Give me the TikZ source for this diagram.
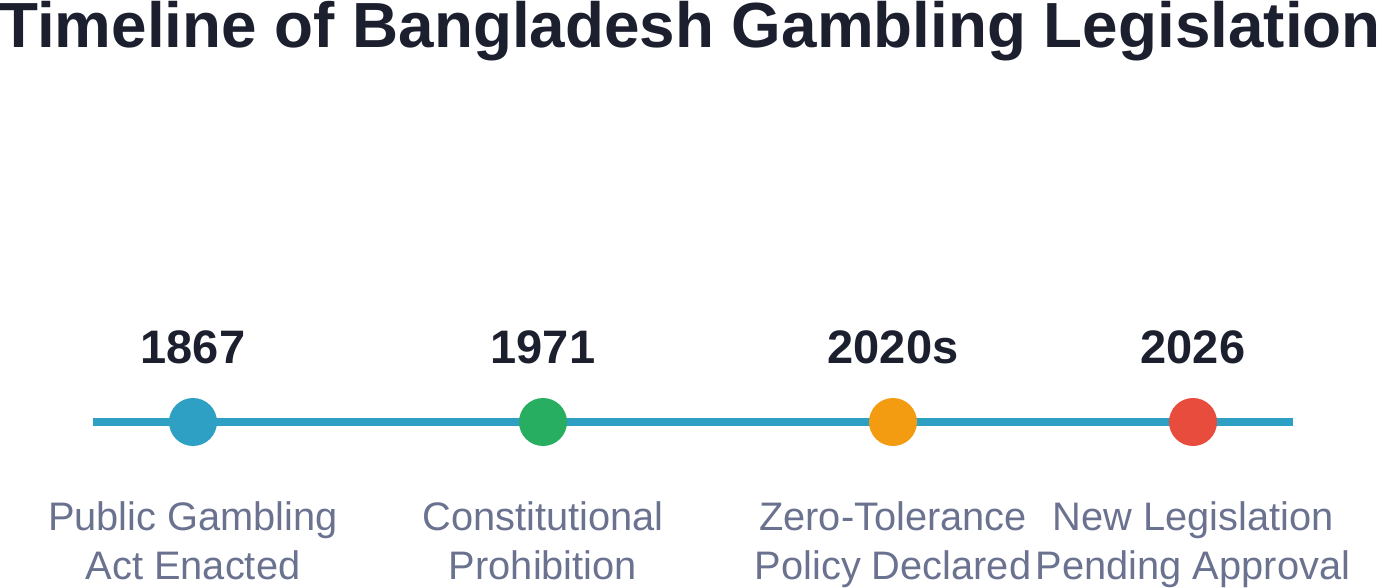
\documentclass[tikz,border=0pt]{standalone}
\usepackage{fontspec}
\setmainfont{Liberation Sans}
\definecolor{titlecol}{HTML}{1C1F2E}
\definecolor{labelcol}{HTML}{6B7290}
\definecolor{linecol}{HTML}{2EA0C4}
\definecolor{ecol1}{HTML}{2EA0C4}
\definecolor{ecol2}{HTML}{27AE60}
\definecolor{ecol3}{HTML}{F39C12}
\definecolor{ecol4}{HTML}{E74C3C}
\tikzset{
  titletext/.style={anchor=base, inner sep=0pt, text=titlecol, font=\bfseries\fontsize{63.8}{75}\selectfont},
  yeartext/.style={anchor=base, inner sep=0pt, text=titlecol, font=\bfseries\fontsize{47}{56}\selectfont},
  labeltext/.style={anchor=base, inner sep=0pt, text=labelcol, align=center, font=\fontsize{39.8}{48.5}\selectfont},
  dot/.style={circle, minimum size=48pt, inner sep=0pt, draw=none},
  track/.style={draw=linecol, line width=8pt},
}
\begin{document}
\begin{tikzpicture}[x=1pt,y=-1pt]
\useasboundingbox (0,0) rectangle (1382,588);
\node[titletext] (title) at (690,48) {Timeline of Bangladesh Gambling Legislation};
\coordinate (tl) at (93,422);
\coordinate (tr) at (1293,422);
\draw[track] (tl) -- (tr);
\node[dot, fill=ecol1] (d1) at (193,422) {};
\node[dot, fill=ecol2] (d2) at (543,422) {};
\node[dot, fill=ecol3] (d3) at (893,422) {};
\node[dot, fill=ecol4] (d4) at (1193,422) {};
\node[yeartext] (y1) at (193,363) {1867};
\node[yeartext] (y2) at (543,363) {1971};
\node[yeartext] (y3) at (893,363) {2020s};
\node[yeartext] (y4) at (1193,363) {2026};
\node[labeltext] (l1a) at (193,530) {Public Gambling};
\node[labeltext] (l1b) at (193,579) {Act Enacted};
\node[labeltext] (l2a) at (543,530) {Constitutional};
\node[labeltext] (l2b) at (543,579) {Prohibition};
\node[labeltext] (l3a) at (893,530) {Zero-Tolerance};
\node[labeltext] (l3b) at (893,579) {Policy Declared};
\node[labeltext] (l4a) at (1193,530) {New Legislation};
\node[labeltext] (l4b) at (1193,579) {Pending Approval};
\end{tikzpicture}
\end{document}
